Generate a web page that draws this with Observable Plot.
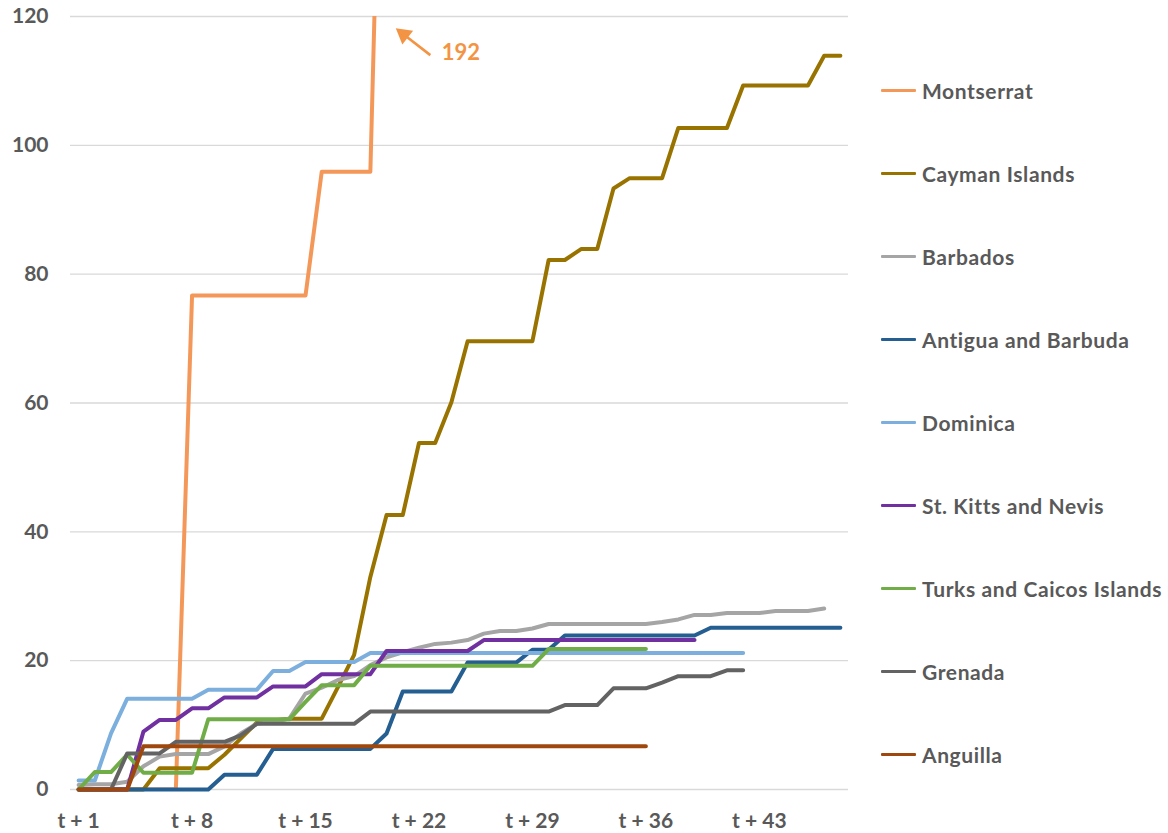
<!DOCTYPE html>
<html>
<head>
<meta charset="utf-8">
<script src="https://cdn.jsdelivr.net/npm/d3@7"></script>
<script src="https://cdn.jsdelivr.net/npm/@observablehq/plot@0.6"></script>
<style>
  body { margin: 0; background: #fff; }
  #wrap { position: relative; width: 1168px; height: 833px; overflow: hidden; }
  .item { position: absolute; left: 881px; display: flex; align-items: center; height: 24px;
          font-family: Lato, "Open Sans", sans-serif; font-weight: bold; font-size: 21px; letter-spacing: 0.6px;
          color: #595959; white-space: nowrap; }
  .swatch { width: 35px; height: 3px; margin-right: 6px; border-radius: 1px; }
</style>
</head>
<body>
<div id="wrap"></div>
<script>
// ---- data ----
const names = ["Montserrat", "Cayman Islands", "Barbados", "Antigua and Barbuda", "Dominica",
               "St. Kitts and Nevis", "Turks and Caicos Islands", "Grenada", "Anguilla"];
const colors = ["#F4985A", "#997300", "#A5A5A5", "#255E91", "#7CAFDD",
                "#7030A0", "#70AD47", "#636363", "#9E480E"];

const montserrat = [0, 0, 0, 0, 0, 0, 0, 76.7, 76.7, 76.7, 76.7, 76.7, 76.7, 76.7, 76.7, 95.9, 95.9, 95.9, 95.9, 192];
const cayman = [0, 0, 0, 0, 0, 3.3, 3.3, 3.3, 3.3, 5.4, 7.9, 10.4, 10.7, 11.0, 11.0, 11.0, 15.9, 20.9, 33.0, 42.6,
                42.6, 53.8, 53.8, 60.1, 69.6, 69.6, 69.6, 69.6, 69.6, 82.2, 82.2, 83.9, 83.9, 93.3, 94.9, 94.9, 94.9,
                102.7, 102.7, 102.7, 102.7, 109.3, 109.3, 109.3, 109.3, 109.3, 113.9, 113.9];
const barbados = [0.7, 0.8, 0.8, 1.2, 3.6, 5.1, 5.5, 5.5, 5.5, 6.7, 8.7, 10.2, 10.5, 11.0, 14.9, 15.8, 17.0, 17.6,
                  19.3, 20.5, 21.3, 22.0, 22.6, 22.8, 23.2, 24.2, 24.6, 24.6, 25.0, 25.7, 25.7, 25.7, 25.7, 25.7,
                  25.7, 25.7, 26.0, 26.4, 27.1, 27.1, 27.4, 27.4, 27.4, 27.7, 27.7, 27.7, 28.1];
const antigua = [0, 0, 0, 0, 0, 0, 0, 0, 0, 2.3, 2.3, 2.3, 6.3, 6.3, 6.3, 6.3, 6.3, 6.3, 6.3, 8.7, 15.2, 15.2,
                 15.2, 15.2, 19.7, 19.7, 19.7, 19.7, 21.7, 21.7, 23.9, 23.9, 23.9, 23.9, 23.9, 23.9, 23.9, 23.9,
                 23.9, 25.1, 25.1, 25.1, 25.1, 25.1, 25.1, 25.1, 25.1, 25.1];
const dominica = [1.4, 1.4, 8.7, 14.1, 14.1, 14.1, 14.1, 14.1, 15.5, 15.5, 15.5, 15.5, 18.4, 18.4, 19.8, 19.8,
                  19.8, 19.8, 21.2, 21.2, 21.2, 21.2, 21.2, 21.2, 21.2, 21.2, 21.2, 21.2, 21.2, 21.2, 21.2, 21.2,
                  21.2, 21.2, 21.2, 21.2, 21.2, 21.2, 21.2, 21.2, 21.2, 21.2];
const stKitts = [0, 0, 0, 0, 9.0, 10.8, 10.8, 12.6, 12.6, 14.3, 14.3, 14.3, 16.0, 16.0, 16.0, 17.9, 17.9, 17.9,
                 17.9, 21.5, 21.5, 21.5, 21.5, 21.5, 21.5, 23.2, 23.2, 23.2, 23.2, 23.2, 23.2, 23.2, 23.2, 23.2,
                 23.2, 23.2, 23.2, 23.2, 23.2];
const turks = [0, 2.7, 2.7, 5.4, 2.6, 2.6, 2.6, 2.6, 10.9, 10.9, 10.9, 10.9, 10.9, 10.9, 13.6, 16.2, 16.2, 16.2,
               19.2, 19.2, 19.2, 19.2, 19.2, 19.2, 19.2, 19.2, 19.2, 19.2, 19.2, 21.8, 21.8, 21.8, 21.8, 21.8,
               21.8, 21.8];
const grenada = [0, 0, 0, 5.6, 5.6, 5.6, 7.4, 7.4, 7.4, 7.4, 8.4, 10.2, 10.2, 10.2, 10.2, 10.2, 10.2, 10.2,
                 12.1, 12.1, 12.1, 12.1, 12.1, 12.1, 12.1, 12.1, 12.1, 12.1, 12.1, 12.1, 13.1, 13.1, 13.1, 15.7,
                 15.7, 15.7, 16.6, 17.6, 17.6, 17.6, 18.5, 18.5];
const anguilla = [0, 0, 0, 0, 6.7, 6.7, 6.7, 6.7, 6.7, 6.7, 6.7, 6.7, 6.7, 6.7, 6.7, 6.7, 6.7, 6.7, 6.7, 6.7,
                  6.7, 6.7, 6.7, 6.7, 6.7, 6.7, 6.7, 6.7, 6.7, 6.7, 6.7, 6.7, 6.7, 6.7, 6.7, 6.7];

const seriesValues = [montserrat, cayman, barbados, antigua, dominica, stKitts, turks, grenada, anguilla];

const xTicks = [1, 8, 15, 22, 29, 36, 43];
const xTickLabels = ["t + 1", "t + 8", "t + 15", "t + 22", "t + 29", "t + 36", "t + 43"];
const yTicks = [0, 20, 40, 60, 80, 100, 120];

// annotation for the off-scale Montserrat value
const annoLabel = ["192"];
const annoTail = [{t: 22.7, v: 114.0}];
const annoHead = [{t: 21.06, v: 117.2}];
const annoText = [{t: 23.4, v: 114.3, label: annoLabel[0]}];

// ---- build tidy table ----
const series = names.map((name, k) => seriesValues[k].map((v, i) => ({name, t: i + 1, v})));

const lineMarks = series.map((rows, k) =>
  Plot.line(rows, {
    x: "t", y: "v", stroke: "name", strokeWidth: 4,
    strokeLinejoin: "round", strokeLinecap: "round",
    clip: k === 0
  })
);

const chart = Plot.plot({
  width: 1168,
  height: 833,
  marginLeft: 70,
  marginRight: 320,
  marginTop: 16,
  marginBottom: 44,
  style: { fontFamily: "Lato, 'Open Sans', sans-serif", fontSize: "21px", fontWeight: "bold", color: "#595959", background: "#fff", overflow: "visible" },
  x: { domain: [0.5, 48.5], ticks: xTicks, tickFormat: d => xTickLabels[xTicks.indexOf(d)], tickSize: 0, tickPadding: 24, label: null },
  y: { domain: [0, 120], ticks: yTicks, tickSize: 0, tickPadding: 22, label: null },
  color: { domain: names, range: colors },
  marks: [
    Plot.ruleY(yTicks, { stroke: "#D9D9D9", strokeWidth: 1.3 }),
    ...lineMarks,
    Plot.link([{a: annoTail[0], b: annoHead[0]}], {
      x1: d => d.a.t, y1: d => d.a.v, x2: d => d.b.t, y2: d => d.b.v,
      stroke: "#F39444", strokeWidth: 2.6
    }),
    Plot.dot(annoHead, { x: "t", y: "v", symbol: "triangle", r: 6.5, fill: "#F39444", stroke: "none", rotate: -52 }),
    Plot.text(annoText, { x: "t", y: "v", text: "label", fill: "#F39444", textAnchor: "start", fontSize: 22, fontWeight: "bold" })
  ]
});

const wrap = document.getElementById("wrap");
wrap.appendChild(chart);

// legend (HTML, to the right of the plot)
const legendTop = 90, legendStep = 83.1;
names.forEach((name, k) => {
  const item = document.createElement("div");
  item.className = "item";
  item.style.top = (legendTop + k * legendStep - 12) + "px";
  const sw = document.createElement("div");
  sw.className = "swatch";
  sw.style.background = colors[k];
  const label = document.createElement("span");
  label.textContent = name;
  item.appendChild(sw);
  item.appendChild(label);
  wrap.appendChild(item);
});
</script>
</body>
</html>
